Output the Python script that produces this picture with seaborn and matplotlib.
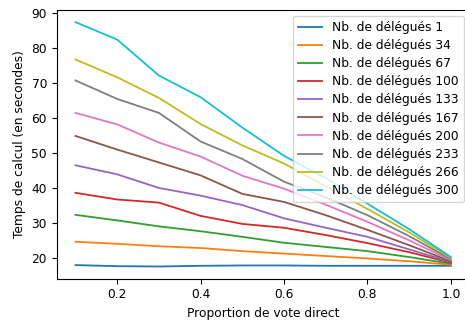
import pandas as pd
import seaborn as sns
import matplotlib.pyplot as plt

# proportion de vote direct
proportions = [0.1, 0.2, 0.3, 0.4, 0.5, 0.6, 0.7, 0.8, 0.9, 1.0]
nb_delegues = [1, 34, 67, 100, 133, 167, 200, 233, 266, 300]

# temps de calcul (en secondes), une liste par nombre de délégués
t_1 = [17.9, 17.6, 17.5, 17.7, 17.8, 17.8, 17.7, 17.7, 17.7, 17.7]
t_34 = [24.6, 24.0, 23.3, 22.8, 21.9, 21.2, 20.5, 19.8, 19.0, 18.0]
t_67 = [32.3, 30.7, 29.0, 27.6, 26.0, 24.3, 23.1, 21.9, 20.2, 18.3]
t_100 = [38.6, 36.7, 35.8, 32.0, 29.7, 28.6, 26.5, 24.2, 21.6, 18.6]
t_133 = [46.5, 43.9, 40.0, 37.8, 35.1, 31.3, 28.6, 26.0, 22.4, 18.8]
t_167 = [54.9, 51.0, 47.3, 43.6, 38.3, 36.0, 32.2, 28.0, 23.6, 19.0]
t_200 = [61.5, 58.2, 53.0, 49.0, 43.5, 39.8, 35.2, 30.3, 25.0, 19.3]
t_233 = [70.8, 65.5, 61.5, 53.3, 48.3, 41.8, 37.3, 32.2, 26.2, 19.6]
t_266 = [76.8, 71.7, 65.8, 58.3, 52.2, 47.0, 40.5, 34.0, 27.3, 19.9]
t_300 = [87.5, 82.5, 72.2, 66.0, 57.3, 49.2, 42.8, 35.5, 28.2, 20.2]

temps = [t_1, t_34, t_67, t_100, t_133, t_167, t_200, t_233, t_266, t_300]

rows = []
for n, serie in zip(nb_delegues, temps):
    for p, t in zip(proportions, serie):
        rows.append({"proportion": p, "temps": t, "serie": "Nb. de délégués %d" % n})
df = pd.DataFrame(rows)

plt.rcParams['font.family'] = ['DejaVu Sans']
plt.rcParams['font.size'] = 8.8

fig = plt.figure(figsize=(4.65, 3.2), dpi=100)
ax = fig.add_axes([0.122, 0.129, 0.888, 0.84])

sns.lineplot(data=df, x="proportion", y="temps", hue="serie",
             palette="tab10", linewidth=1.3, ax=ax)

ax.legend(loc="upper right", fontsize=8.8, labelspacing=0.42)
ax.set_xlabel("Proportion de vote direct", fontsize=8.8)
ax.set_ylabel("Temps de calcul (en secondes)", fontsize=8.8)
ax.tick_params(labelsize=8.8)

fig.savefig("out.png", dpi=100)
